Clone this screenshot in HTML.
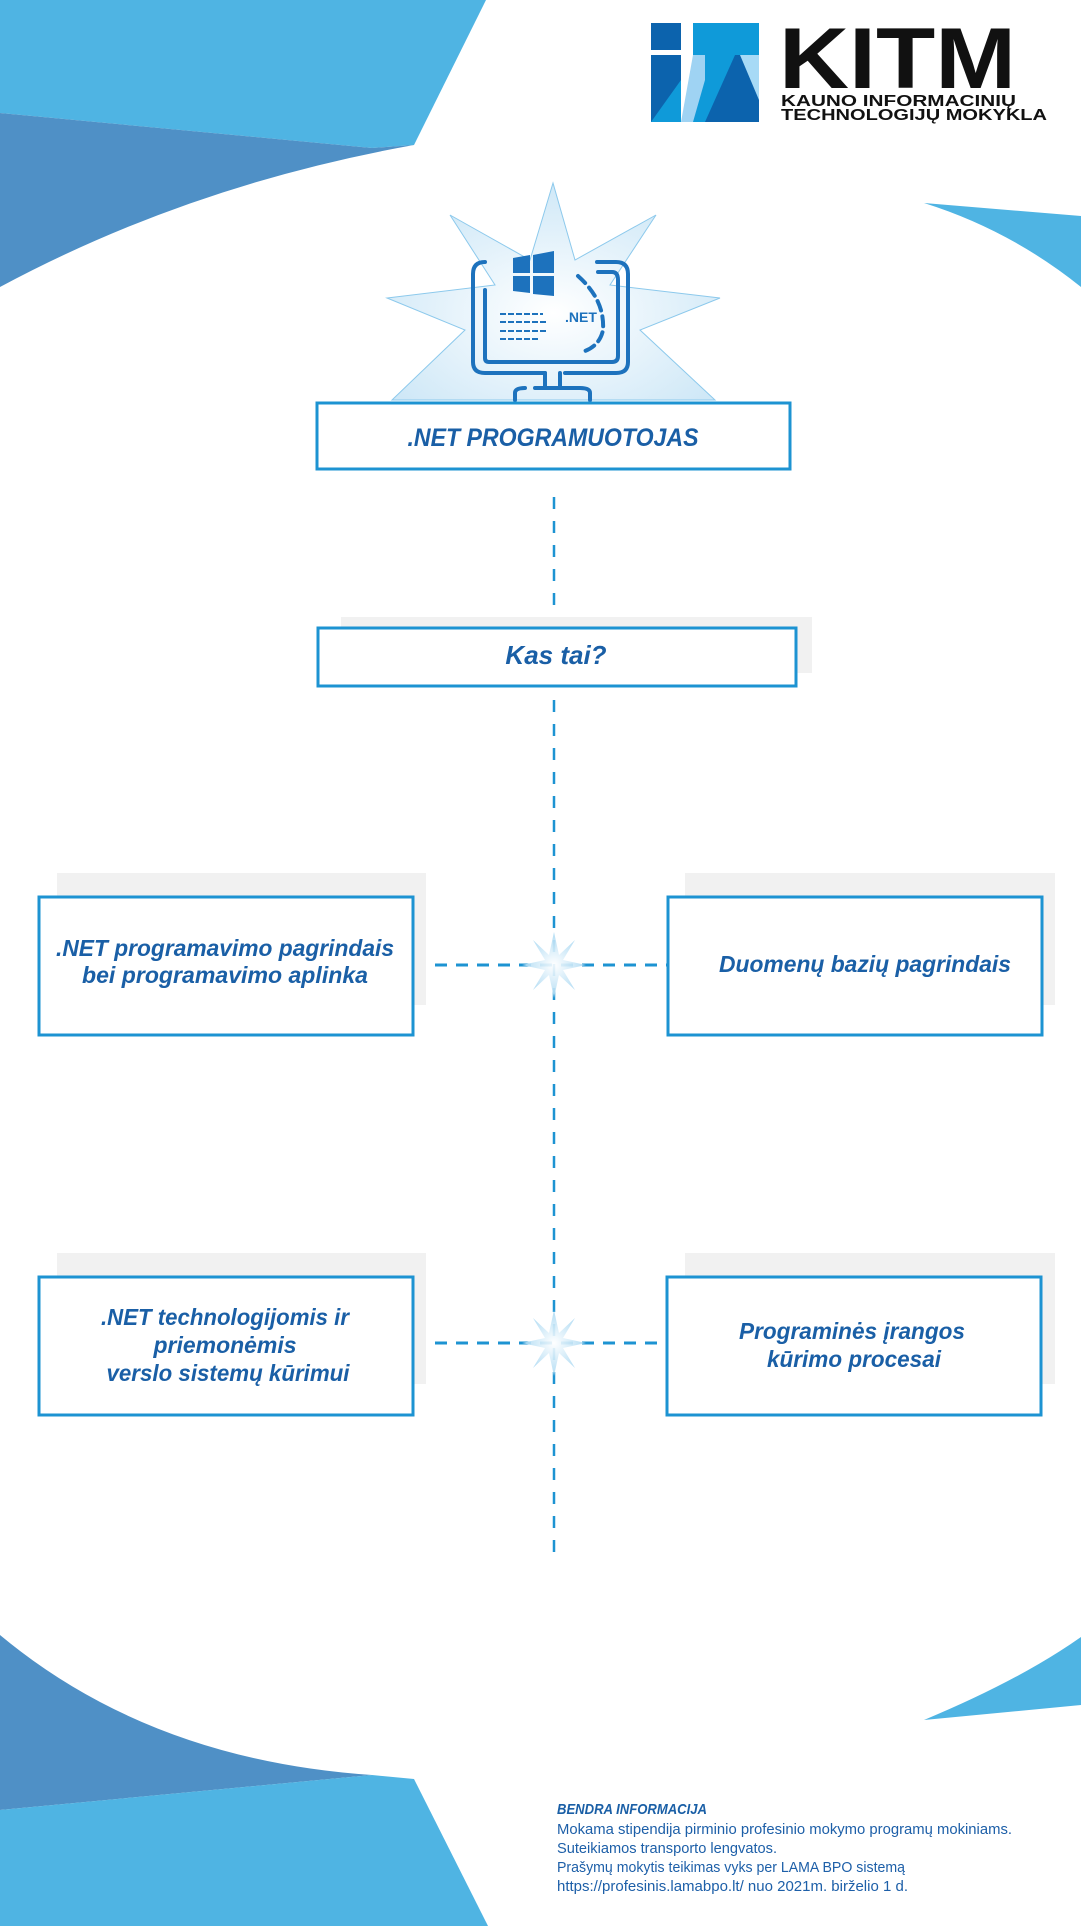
<!DOCTYPE html>
<html><head><meta charset="utf-8"><style>
html,body{margin:0;padding:0;background:#fff;}
svg{display:block;}
.bt{font-family:"Liberation Sans Narrow","Liberation Sans",sans-serif;font-weight:bold;font-style:italic;fill:#1a5fa6;}
.ft{font-family:"Liberation Sans Narrow","Liberation Sans",sans-serif;fill:#1d5fa8;font-size:15px;}
</style></head><body>
<svg width="1081" height="1932" viewBox="0 0 1081 1932" xmlns="http://www.w3.org/2000/svg">
<defs>
<radialGradient id="sg" cx="50%" cy="60%" r="60%"><stop offset="0" stop-color="#ffffff"/><stop offset="1" stop-color="#cfe8f7"/></radialGradient>
<radialGradient id="sp" cx="50%" cy="50%" r="50%"><stop offset="0" stop-color="#ffffff"/><stop offset="1" stop-color="#a9d8f2"/></radialGradient>
</defs>
<polygon points="0,0 486,0 414,145 372,148 0,113" fill="#4fb4e3"/>
<path d="M0,113 L372,148 L414,145 Q190,185 0,287 Z" fill="#4f90c6"/>
<path d="M924,203 L1081,216 L1081,287 Q1010,230 924,203 Z" fill="#4fb4e3"/>
<path d="M0,1635 Q150,1760 372,1775 L0,1810 Z" fill="#4f90c6"/>
<polygon points="0,1810 372,1775 414,1779 488,1926 0,1926" fill="#4fb4e3"/>
<path d="M1081,1637 L1081,1705 L924,1720 Q1020,1680 1081,1637 Z" fill="#4fb4e3"/>

<rect x="651" y="23" width="108" height="99" fill="#0f9ad9"/>
<rect x="651" y="23" width="30" height="99" fill="#0c63ad"/>
<rect x="681" y="23" width="12" height="99" fill="#fff"/>
<rect x="651" y="50" width="42" height="5" fill="#fff"/>
<polygon points="693,55 705,55 705,80 693,122 681,122" fill="#9fd3f3"/>
<polygon points="735,55 759,55 759,122 705,122" fill="#0c63ad"/>
<polygon points="740,55 759,55 759,100" fill="#a7daf6"/>
<polygon points="651,122 681,80 681,122" fill="#0f9ad9"/>
<text x="779" y="88" font-family="Liberation Sans" font-weight="bold" font-size="86" fill="#111" textLength="237" lengthAdjust="spacingAndGlyphs">KITM</text>
<text x="781" y="106" font-family="Liberation Sans" font-weight="bold" font-size="16" fill="#111" textLength="235" lengthAdjust="spacingAndGlyphs">KAUNO INFORMACINIŲ</text>
<text x="781" y="120" font-family="Liberation Sans" font-weight="bold" font-size="16" fill="#111" textLength="266" lengthAdjust="spacingAndGlyphs">TECHNOLOGIJŲ MOKYKLA</text>

<polygon points="553,183 575,260 656,215 610,285 720,298 640,330 715,400 392,400 465,330 387,298 495,285 450,215 530,260" fill="url(#sg)" stroke="#8cc9ec" stroke-width="1"/>
<g fill="none" stroke="#1d72bd" stroke-width="4" stroke-linecap="round">
<path d="M485,262 Q473,262 473,274 L473,362 Q473,373 485,373 L545,373 M565,373 L616,373 Q628,373 628,362 L628,274 Q628,262 616,262 L597,262"/>
<path d="M485,290 L485,358 Q485,362 489,362 L612,362 Q618,362 618,356 L618,280 Q618,272 612,272 L598,272"/>
<path d="M545,373 L545,388 M560,373 L560,388"/>
<path d="M535,388 L580,388 Q590,388 590,393 L590,400 M515,400 L515,393 Q515,388 525,388"/>
<path d="M578,276 Q605,300 603,330 Q600,345 585,351" stroke-dasharray="10,6"/>
</g>
<g fill="#1d72bd">
<polygon points="513,258 530,255 530,273 513,273"/><polygon points="533,255 554,251 554,273 533,273"/>
<polygon points="513,276 530,276 530,293 513,291"/><polygon points="533,276 554,276 554,296 533,294"/>
</g>
<g stroke="#1d72bd" stroke-width="2" stroke-dasharray="6,2">
<line x1="500" y1="314" x2="543" y2="314"/><line x1="500" y1="322" x2="548" y2="322"/><line x1="500" y1="331" x2="548" y2="331"/><line x1="500" y1="339" x2="538" y2="339"/>
</g>
<text x="565" y="322" font-family="Liberation Sans" font-weight="bold" font-size="14" fill="#1d72bd">.NET</text>

<rect x="317" y="403" width="473" height="66" fill="#fff" stroke="#1d93d2" stroke-width="3"/>
<text class="bt" x="553" y="446" font-size="25" text-anchor="middle" textLength="291" lengthAdjust="spacingAndGlyphs">.NET  PROGRAMUOTOJAS</text>

<line x1="554" y1="497" x2="554" y2="617" stroke="#1d93d2" stroke-width="2.5" stroke-dasharray="12,12"/>
<line x1="554" y1="700" x2="554" y2="1552" stroke="#1d93d2" stroke-width="2.5" stroke-dasharray="12,12"/>

<rect x="341" y="617" width="471" height="56" fill="#f1f1f1"/>
<rect x="318" y="628" width="478" height="58" fill="#fff" stroke="#1d93d2" stroke-width="3"/>
<text class="bt" x="556" y="664" font-size="26" text-anchor="middle" font-family="Liberation Sans">Kas tai?</text>

<line x1="414" y1="965" x2="668" y2="965" stroke="#1d93d2" stroke-width="3" stroke-dasharray="12,9"/>
<line x1="414" y1="1343" x2="668" y2="1343" stroke="#1d93d2" stroke-width="3" stroke-dasharray="12,9"/>
<g fill="url(#sp)" opacity="0.9">
<polygon points="554,932 559,955 575,940 563,960 586,965 563,970 575,990 559,975 554,998 549,975 533,990 545,970 522,965 545,960 533,940 549,955"/>
<polygon points="554,1310 559,1333 575,1318 563,1338 586,1343 563,1348 575,1368 559,1353 554,1376 549,1353 533,1368 545,1348 522,1343 545,1338 533,1318 549,1333"/>
</g>

<rect x="57" y="873" width="369" height="132" fill="#f1f1f1"/>
<rect x="685" y="873" width="370" height="132" fill="#f1f1f1"/>
<rect x="39" y="897" width="374" height="138" fill="#fff" stroke="#1d93d2" stroke-width="3"/>
<rect x="668" y="897" width="374" height="138" fill="#fff" stroke="#1d93d2" stroke-width="3"/>
<text class="bt" x="225" y="956" font-size="23" text-anchor="middle" textLength="338" lengthAdjust="spacingAndGlyphs">.NET programavimo pagrindais</text>
<text class="bt" x="225" y="983" font-size="23" text-anchor="middle" textLength="286" lengthAdjust="spacingAndGlyphs">bei programavimo aplinka</text>
<text class="bt" x="865" y="972" font-size="23" text-anchor="middle" textLength="292" lengthAdjust="spacingAndGlyphs">Duomenų bazių pagrindais</text>

<rect x="57" y="1253" width="369" height="131" fill="#f1f1f1"/>
<rect x="685" y="1253" width="370" height="131" fill="#f1f1f1"/>
<rect x="39" y="1277" width="374" height="138" fill="#fff" stroke="#1d93d2" stroke-width="3"/>
<rect x="667" y="1277" width="374" height="138" fill="#fff" stroke="#1d93d2" stroke-width="3"/>
<text class="bt" x="225" y="1325" font-size="23" text-anchor="middle" textLength="248" lengthAdjust="spacingAndGlyphs">.NET technologijomis ir</text>
<text class="bt" x="225" y="1353" font-size="23" text-anchor="middle" textLength="143" lengthAdjust="spacingAndGlyphs">priemonėmis</text>
<text class="bt" x="228" y="1381" font-size="23" text-anchor="middle" textLength="243" lengthAdjust="spacingAndGlyphs">verslo sistemų kūrimui</text>
<text class="bt" x="852" y="1339" font-size="23" text-anchor="middle" textLength="226" lengthAdjust="spacingAndGlyphs">Programinės įrangos</text>
<text class="bt" x="854" y="1367" font-size="23" text-anchor="middle" textLength="174" lengthAdjust="spacingAndGlyphs">kūrimo procesai</text>

<text class="bt" x="557" y="1814" font-size="15" textLength="150" lengthAdjust="spacingAndGlyphs">BENDRA INFORMACIJA</text>
<text class="ft" x="557" y="1834" textLength="455" lengthAdjust="spacingAndGlyphs">Mokama stipendija pirminio profesinio mokymo programų mokiniams.</text>
<text class="ft" x="557" y="1853" textLength="220" lengthAdjust="spacingAndGlyphs">Suteikiamos transporto lengvatos.</text>
<text class="ft" x="557" y="1872" textLength="348" lengthAdjust="spacingAndGlyphs">Prašymų mokytis teikimas vyks per LAMA BPO sistemą</text>
<text class="ft" x="557" y="1891" textLength="351" lengthAdjust="spacingAndGlyphs">https://profesinis.lamabpo.lt/  nuo 2021m. birželio 1 d.</text>
</svg>
</body></html>
